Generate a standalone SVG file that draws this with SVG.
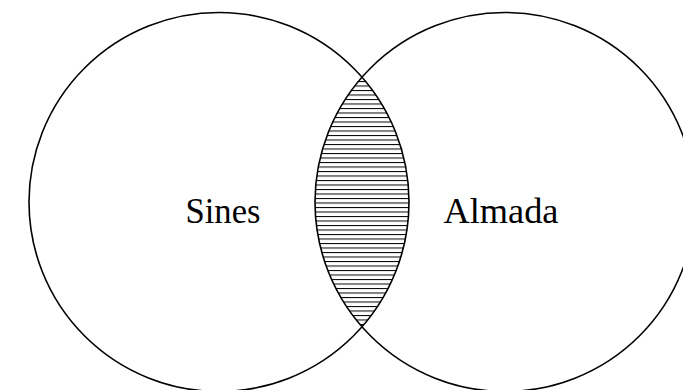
<svg xmlns="http://www.w3.org/2000/svg" width="683" height="390" viewBox="0 0 683 390">
<style>
.set{fill:none;stroke:#000;stroke-width:1.6}
.lbl{font-family:"Liberation Serif",serif;font-size:36px;fill:#000;text-anchor:middle}
</style>
<defs>
<pattern id="hatch" patternUnits="userSpaceOnUse" x="0" y="0" width="10" height="4.5">
<line x1="0" y1="0.5" x2="10" y2="0.5" stroke="#000" stroke-width="1"/>
</pattern>
<clipPath id="clipL"><ellipse cx="219" cy="202" rx="190" ry="189.5"/></clipPath>
</defs>
<rect width="683" height="390" fill="#fff"/>
<g id="intersection">
<ellipse cx="505" cy="202" rx="190" ry="189.5" fill="url(#hatch)" clip-path="url(#clipL)"/>
</g>
<g id="connectors"></g>
<g id="sines">
<ellipse class="set" cx="219" cy="202" rx="190" ry="189.5"/>
<text class="lbl" x="223" y="223" textLength="75" lengthAdjust="spacingAndGlyphs">Sines</text>
</g>
<g id="almada">
<ellipse class="set" cx="505" cy="202" rx="190" ry="189.5"/>
<text class="lbl" x="501" y="223" textLength="115" lengthAdjust="spacingAndGlyphs">Almada</text>
</g>
</svg>
